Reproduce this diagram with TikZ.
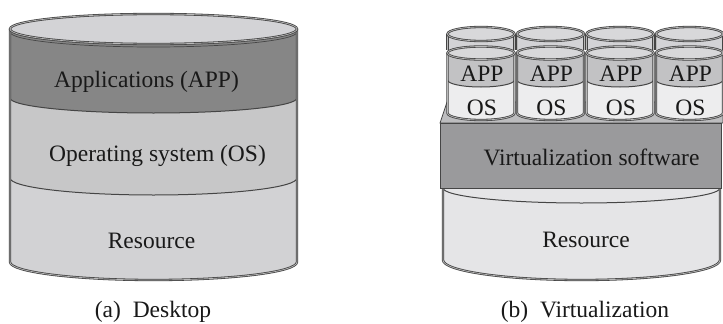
\documentclass[tikz,border=0pt]{standalone}
\usepackage{fontspec}
\setmainfont{Liberation Serif}
\usepackage{tikz}

\definecolor{rimgray}{HTML}{454545}
\definecolor{topgray}{HTML}{D3D3D6}
\definecolor{appgray}{HTML}{868686}
\definecolor{osgray}{HTML}{C7C7C8}
\definecolor{resgray}{HTML}{D2D2D4}
\definecolor{vmtop}{HTML}{D8D8DA}
\definecolor{vmapp}{HTML}{C2C2C4}
\definecolor{vmos}{HTML}{EDEDEE}
\definecolor{slabtop}{HTML}{BDBDBF}
\definecolor{slabgray}{HTML}{9A9A9C}
\definecolor{vresgray}{HTML}{E5E5E7}

\tikzset{
  rim/.style={draw=rimgray, double=gray!55, double distance=0.7pt, line width=0.8pt},
  seam/.style={draw=rimgray, line width=1pt},
  txt/.style={font=\fontsize{23.5}{28}\selectfont, text=black!90, inner sep=0pt},
}

% band of a cylinder: centre x, x radius, top y, bottom y, bottom y radius, colour
\newcommand{\cylband}[6]{%
  \fill[#6] (#1-#2,#3) -- (#1-#2,#4)
    arc[start angle=180, end angle=360, x radius=#2, y radius=#5] -- (#1+#2,#3) -- cycle;}

\begin{document}
\begin{tikzpicture}[x=1pt, y=1pt]
  \useasboundingbox (0,0) rectangle (723,-324);
  \fill[white] (0,0) rectangle (723,-324);

  % (a) desktop
  \def\Lx{153.5}
  \def\Lr{143.5}
  \begin{scope}
    \cylband{\Lx}{\Lr}{-29}{-262}{18}{resgray}
    \cylband{\Lx}{\Lr}{-29}{-178}{17}{osgray}
    \cylband{\Lx}{\Lr}{-29}{-98}{15}{appgray}
    \fill[topgray] (\Lx,-29) ellipse[x radius=\Lr, y radius=15];
    \draw[seam] (\Lx-\Lr,-98) arc[start angle=180, end angle=360, x radius=\Lr, y radius=15];
    \draw[seam] (\Lx-\Lr,-178) arc[start angle=180, end angle=360, x radius=\Lr, y radius=17];
    \draw[seam, line width=0.7pt] (\Lx-\Lr,-32) arc[start angle=180, end angle=360, x radius=\Lr, y radius=15];
    \draw[rim] (\Lx-\Lr,-29) -- (\Lx-\Lr,-262)
      arc[start angle=180, end angle=360, x radius=\Lr, y radius=18] -- (\Lx+\Lr,-29);
    \draw[rim] (\Lx,-29) ellipse[x radius=\Lr, y radius=15];
  \end{scope}

  \begin{scope}
    \node[txt] (app) at (146.5,-82) {Applications (APP)};
    \node[txt] (os) at (157.5,-156) {Operating system (OS)};
    \node[txt] (res) at (151.5,-241) {Resource};
    \node[txt] (capA) at (153,-312) {(a)\ \ Desktop};
  \end{scope}

  % (b) virtualization
  \def\Rx{581.5}
  \def\Rr{138.5}
  \begin{scope}
    \cylband{\Rx}{\Rr}{-188}{-260}{20}{vresgray}
    \draw[seam] (\Rx-\Rr,-188) arc[start angle=180, end angle=360, x radius=\Rr, y radius=15];
    \draw[rim] (\Rx-\Rr,-188) -- (\Rx-\Rr,-260)
      arc[start angle=180, end angle=360, x radius=\Rr, y radius=20] -- (\Rx+\Rr,-188);
    \fill[slabtop, draw=rimgray, line width=0.8pt] (440,-123) -- (447,-102) -- (723,-102) -- (723,-123) -- cycle;
  \end{scope}

  \foreach \i [evaluate=\i as \sx using 481+69.5*(\i-1)] in {1,...,4} {
    \cylband{\sx}{33.5}{-34}{-50}{7}{topgray}
    \fill[vmtop] (\sx,-34) ellipse[x radius=33.5, y radius=7];
    \draw[rim] (\sx-33.5,-34) -- (\sx-33.5,-50) (\sx+33.5,-34) -- (\sx+33.5,-50);
    \draw[rim] (\sx,-34) ellipse[x radius=33.5, y radius=7];
    \cylband{\sx}{33.5}{-53}{-113}{7}{vmos}
    \cylband{\sx}{33.5}{-53}{-80}{7}{vmapp}
    \fill[vmtop] (\sx,-53) ellipse[x radius=33.5, y radius=6.5];
    \draw[seam] (\sx-33.5,-80) arc[start angle=180, end angle=360, x radius=33.5, y radius=7];
    \draw[rim] (\sx-33.5,-53) -- (\sx-33.5,-113)
      arc[start angle=180, end angle=360, x radius=33.5, y radius=7] -- (\sx+33.5,-53);
    \draw[rim] (\sx,-53) ellipse[x radius=33.5, y radius=6.5];
    \node[txt] (vapp\i) at (\sx+1,-74) {APP};
    \node[txt] (vos\i) at (\sx+1,-108) {OS};
  }

  \begin{scope}
    \fill[slabgray, draw=rimgray, line width=0.8pt] (440,-123) rectangle (721,-188);
    \node[txt] (virt) at (591.5,-157) {Virtualization software};
    \node[txt] (vres) at (586,-240) {Resource};
    \node[txt] (capB) at (585,-312) {(b)\ \ Virtualization};
  \end{scope}
\end{tikzpicture}
\end{document}
